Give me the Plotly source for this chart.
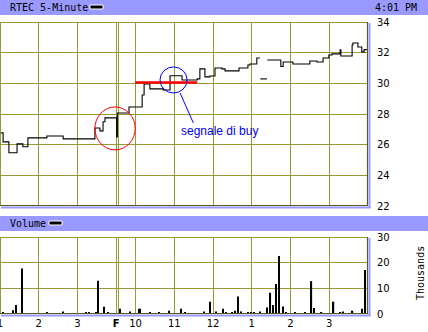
import plotly.graph_objects as go

# ---- data (x = session hours from 1 PM of previous day; Friday 9:30 opens at 3.0) ----
price_time = [0.00, 0.08, 0.23, 0.44, 0.59, 0.72, 1.21, 1.63, 2.45, 2.58, 2.66, 2.71, 3.01, 3.03,
              3.33, 3.67, 3.72, 3.87, 4.21, 4.39, 4.70, 5.09, 5.16, 5.29, 5.42, 5.55, 5.73, 5.81,
              6.17, 6.40, 6.45, 6.63, 6.71, 6.71, 6.72, 6.89, 6.89, 6.90, 7.25, 7.31, 7.56, 8.00,
              8.18, 8.34, 8.49, 8.57, 8.78, 8.80, 9.09, 9.11, 9.24, 9.34, 9.40, 9.47]
price = [26.77, 26.18, 25.47, 26.05, 25.86, 26.44, 26.57, 26.38, 27.09, 26.90, 27.49, 27.75, 26.50, 28.07,
         28.46, 29.24, 29.96, 29.64, 29.57, 30.49, 30.22, 30.29, 30.94, 30.42, 30.48, 31.00, 30.94, 30.81,
         31.00, 31.20, 31.26, 31.65, 31.65, None, 30.29, 30.29, None, 31.52, 31.10, 31.39, 31.26, 31.46,
         31.39, 31.65, 31.85, 31.92, 32.18, 31.78, 32.50, 32.63, 32.37, 32.05, 32.20, 32.20]

vol_time = [0.08, 0.34, 0.41, 0.57, 1.21, 1.63, 2.22, 2.30, 2.48, 2.53, 2.69, 2.79, 3.10, 3.36,
            3.59, 3.62, 3.88, 4.11, 4.37, 4.68, 4.78, 5.27, 5.43, 5.58, 5.76, 5.84, 6.00, 6.07,
            6.15, 6.23, 6.41, 6.49, 6.56, 6.72, 6.90, 6.98, 7.05, 7.13, 7.21, 7.31, 7.39, 7.62,
            7.88, 8.04, 8.11, 8.30, 8.61, 8.79, 8.86, 9.10, 9.35, 9.43]
volume = [0.5, 1.5, 3.5, 17.7, 0.5, 1.0, 0.5, 0.5, 0.5, 13.0, 2.8, 0.5, 2.0, 1.0,
          2.0, 2.0, 0.5, 0.5, 1.3, 2.0, 0.5, 1.0, 4.8, 1.0, 2.0, 0.5, 0.5, 1.3,
          6.8, 1.0, 0.5, 0.5, 0.5, 1.0, 2.5, 8.3, 3.5, 11.7, 22.6, 2.9, 0.5, 0.5,
          0.5, 12.8, 2.3, 0.5, 4.8, 0.5, 1.0, 1.3, 2.0, 17.1]

hour_ticks = [0, 1, 2, 3, 3.5, 4.5, 5.5, 6.5, 7.5, 8.5]
hour_labels = ["1", "2", "3", "<b>F</b>", "10", "11", "12", "1", "2", "3"]
price_ticks = [22, 24, 26, 28, 30, 32, 34]
vol_ticks = [0, 10, 20, 30]

signal_level = 30.05
signal_start, signal_end = 3.49, 5.09

# ---- layout helpers (pixel -> paper) ----
W, H = 428, 332
L, R, T, B = 0, 60, 22, 18
PW, PH = W - L - R, H - T - B


def px(x):
    return (x - L) / PW


def py(y):
    return (H - B - y) / PH


OLIVE = "#999933"
DARK = "#5a5a1e"
LAV = "#9999ff"

fig = go.Figure()
fig.add_trace(go.Scatter(x=price_time, y=price, mode="lines", connectgaps=False,
                         line=dict(color="black", width=1.1, shape="hv"),
                         xaxis="x", yaxis="y", hoverinfo="skip", showlegend=False))
fig.add_trace(go.Bar(x=vol_time, y=volume, width=0.035,
                     marker=dict(color="black", line=dict(width=0)),
                     xaxis="x2", yaxis="y2", hoverinfo="skip", showlegend=False))

axfont = dict(family="DejaVu Sans", size=10, color="black")
main_bottom = py(206)
vol_top = py(237)

fig.update_layout(
    width=W, height=H, margin=dict(l=L, r=R, t=T, b=B, autoexpand=False),
    paper_bgcolor="white", plot_bgcolor="white", showlegend=False,
    xaxis=dict(domain=[0, 1], anchor="y", range=[0, 9.5], tickvals=hour_ticks,
               showticklabels=False, showgrid=True, gridcolor=OLIVE, gridwidth=1,
               zeroline=False, showline=False, ticks="", automargin=False),
    yaxis=dict(domain=[main_bottom, 1], anchor="x", range=[22, 34], tickvals=price_ticks,
               side="right", showgrid=True, gridcolor=OLIVE, gridwidth=1, zeroline=False,
               ticks="", tickfont=axfont, ticklabelstandoff=8, automargin=False),
    xaxis2=dict(domain=[0, 1], anchor="y2", range=[0, 9.5], tickvals=hour_ticks,
                ticktext=hour_labels, showgrid=True, gridcolor=OLIVE, gridwidth=1,
                zeroline=False, ticks="", tickfont=axfont, ticklabeloverflow="allow",
                ticklabelstandoff=2, automargin=False),
    yaxis2=dict(domain=[0, vol_top], anchor="x2", range=[0, 30], tickvals=vol_ticks,
                side="right", showgrid=True, gridcolor=OLIVE, gridwidth=1, zeroline=False,
                ticks="", tickfont=axfont, ticklabelstandoff=8, automargin=False),
)

shapes = []
# title bars
shapes.append(dict(type="rect", xref="paper", yref="paper", x0=px(0), x1=px(W), y0=py(15), y1=py(0),
                   fillcolor=LAV, line=dict(width=0), layer="below"))
shapes.append(dict(type="rect", xref="paper", yref="paper", x0=px(0), x1=px(W), y0=py(231), y1=py(216),
                   fillcolor=LAV, line=dict(width=0), layer="below"))
# legend swatches
shapes.append(dict(type="rect", xref="paper", yref="paper", x0=px(90), x1=px(103), y0=py(9), y1=py(5),
                   fillcolor="black", line=dict(color="white", width=1)))
shapes.append(dict(type="rect", xref="paper", yref="paper", x0=px(49), x1=px(62), y0=py(225), y1=py(221),
                   fillcolor="black", line=dict(color="white", width=1)))
# F double line
for yr in ["y", "y2"]:
    shapes.append(dict(type="line", xref="x", yref=yr + " domain", x0=3.06, x1=3.06, y0=0, y1=1,
                       line=dict(color=OLIVE, width=1), layer="below"))
# frames
for top, bot in [(22, 206), (237, 314)]:
    shapes.append(dict(type="line", xref="paper", yref="paper", x0=px(0.5), x1=px(0.5),
                       y0=py(bot), y1=py(top), line=dict(color=OLIVE, width=1)))
    shapes.append(dict(type="line", xref="paper", yref="paper", x0=px(0), x1=px(368),
                       y0=py(top + 0.5), y1=py(top + 0.5), line=dict(color=OLIVE, width=1)))
    shapes.append(dict(type="line", xref="paper", yref="paper", x0=px(367.5), x1=px(367.5),
                       y0=py(bot), y1=py(top), line=dict(color=DARK, width=1.2)))
    shapes.append(dict(type="line", xref="paper", yref="paper", x0=px(369.5), x1=px(369.5),
                       y0=py(bot + 2), y1=py(top + 1), line=dict(color=LAV, width=2)))
    shapes.append(dict(type="line", xref="paper", yref="paper", x0=px(0), x1=px(368),
                       y0=py(bot - 0.5), y1=py(bot - 0.5), line=dict(color=DARK, width=1.2)))
    shapes.append(dict(type="line", xref="paper", yref="paper", x0=px(1), x1=px(370.5),
                       y0=py(bot + 1.5), y1=py(bot + 1.5), line=dict(color=LAV, width=2)))
# signal annotations
shapes.append(dict(type="line", xref="x", yref="y", x0=signal_start, x1=signal_end,
                   y0=signal_level, y1=signal_level, line=dict(color="#ff0000", width=2.5)))
shapes.append(dict(type="circle", xref="x", yref="y", x0=4.13, x1=4.83, y0=29.37, y1=31.07,
                   line=dict(color="#0000ff", width=1)))
shapes.append(dict(type="circle", xref="x", yref="y", x0=2.45, x1=3.49, y0=25.66, y1=28.46,
                   line=dict(color="#ff0000", width=1)))
shapes.append(dict(type="line", xref="x", yref="y", x0=4.65, x1=4.99, y0=29.37, y1=27.42,
                   line=dict(color="#0000ff", width=1)))
fig.update_layout(shapes=shapes)

mono = dict(family="DejaVu Sans Mono", size=10, color="black")
ann = [
    dict(text="RTEC 5-Minute", xref="paper", yref="paper", x=px(8), y=py(7.5), xanchor="left",
         yanchor="middle", showarrow=False, font=mono),
    dict(text="4:01 PM", xref="paper", yref="paper", x=px(419), y=py(7.5), xanchor="right",
         yanchor="middle", showarrow=False, font=mono),
    dict(text="Volume", xref="paper", yref="paper", x=px(8), y=py(223.5), xanchor="left",
         yanchor="middle", showarrow=False, font=mono),
    dict(text="Thousands", xref="paper", yref="paper", x=px(420), y=py(273), xanchor="center",
         yanchor="middle", showarrow=False, textangle=-90, font=mono),
    dict(text="segnale di buy", xref="x", yref="y", x=4.63, y=26.9, xanchor="left",
         yanchor="middle", showarrow=False,
         font=dict(family="Liberation Sans", size=12, color="#0000ff")),
]
fig.update_layout(annotations=ann)

fig.write_html("out.html")
